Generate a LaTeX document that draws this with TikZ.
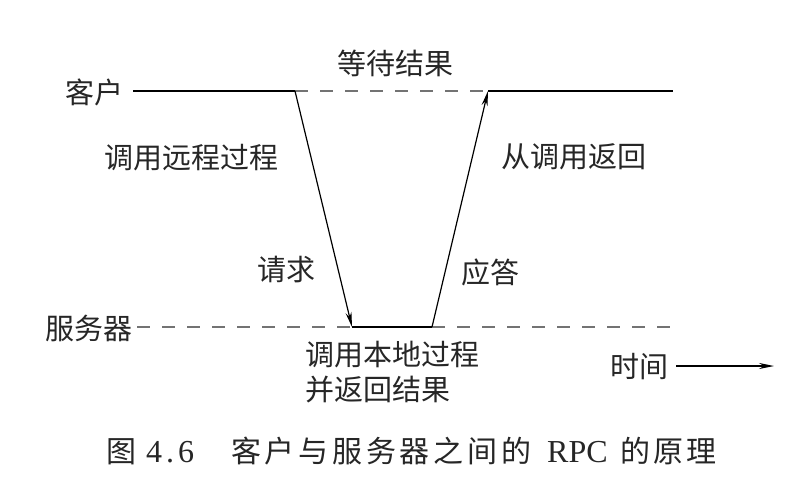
\documentclass[tikz,border=0pt]{standalone}
\usepackage{fontspec}
\newfontfamily\cjk{Noto Sans CJK SC}
\newfontfamily\lat{Liberation Serif}
\usetikzlibrary{arrows.meta}
\begin{document}
\begin{tikzpicture}[x=1pt,y=-1pt,
  lbl/.style={font=\cjk\fontsize{29}{33}\selectfont, inner sep=0pt, text=black!85},
  life/.style={line width=2pt, black},
  wait/.style={line width=1.3pt, black!55, dash pattern=on 13pt off 12pt},
  msg/.style={line width=1.2pt, black, -{Stealth[length=15pt,width=6pt]}}]
\useasboundingbox (0,0) rectangle (808,492);
% client line
\coordinate (c0) at (133,91);
\coordinate (c1) at (295,91);
\coordinate (c2) at (488,91);
\coordinate (c3) at (673,91);
% server line
\coordinate (s0) at (137,327);
\coordinate (s1) at (352,327);
\coordinate (s2) at (432,327);
\coordinate (s3) at (670,327);
\node[lbl, anchor=east] (client) at (124,92) {客户};
\node[lbl, anchor=east] (server) at (133,328) {服务器};
\node[lbl] (waitres) at (395,63) {等待结果};
\node[lbl] (callrem) at (191,158) {调用远程过程};
\node[lbl] (retcall) at (574,157) {从调用返回};
\node[lbl] (req) at (286,270) {请求};
\node[lbl] (resp) at (490,272) {应答};
\node[lbl, anchor=west, align=left] (local) at (305,372) {调用本地过程\\[2pt]并返回结果};
\node[lbl, anchor=west] (time) at (610,367) {时间};
\coordinate (tstart) at (676,366);
\coordinate (tend) at (774,366);
\draw[life] (c0) -- (c1);
\draw[wait] (c1) -- (c2);
\draw[life] (c2) -- (c3);
\draw[wait] (s0) -- (s1);
\draw[life] (s1) -- (s2);
\draw[wait] (s2) -- (s3);
\draw[msg] (c1) -- (s1);
\draw[msg] (s2) -- (c2);
\draw[msg, line width=1.5pt] (tstart) -- (tend);
\node[inner sep=0pt, anchor=west, text=black!85] (caption) at (106,451)
  {\cjk\fontsize{30}{33}\selectfont\makebox[30pt][l]{图}\hspace{10pt}\makebox[48pt][s]{\lat\fontsize{32}{33}\selectfont 4\hfill.\hfill 6}\hspace{37pt}\makebox[300pt][s]{客\hfill 户\hfill 与\hfill 服\hfill 务\hfill 器\hfill 之\hfill 间\hfill 的}\hspace{16pt}{\lat\fontsize{32}{33}\selectfont RPC}\hspace{13pt}\makebox[96pt][s]{的\hfill 原\hfill 理}};
\end{tikzpicture}
\end{document}
